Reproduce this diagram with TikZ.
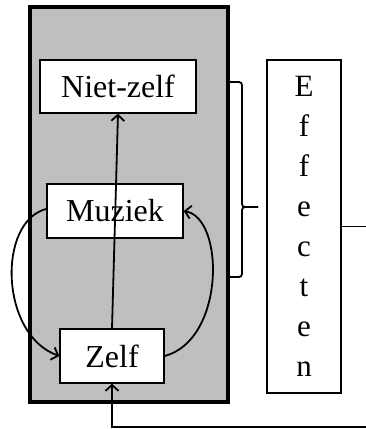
\documentclass[tikz,border=0pt]{standalone}
\usepackage{fontspec}
\setmainfont{Liberation Serif}
\usetikzlibrary{arrows.meta}
\begin{document}
\begin{tikzpicture}[x=1pt,y=-1pt,
  wbox/.style={draw=black,line width=1.3pt,fill=white,inner sep=0pt,font=\fontsize{32}{36}\selectfont},
  conn/.style={line width=1.8pt,-{Straight Barb[length=6pt,width=13pt,line width=1.8pt]}},
  plain/.style={line width=1.8pt}]
\useasboundingbox (0,0) rectangle (365,429);
\node[draw=black,line width=3.5pt,fill=black!25,minimum width=198pt,minimum height=395pt,inner sep=0pt] (gray) at (129,204.5) {};
\node[wbox,minimum width=156pt,minimum height=53pt] (niet) at (118,86.5) {Niet-zelf};
\node[wbox,minimum width=136pt,minimum height=54pt] (muz) at (115,211) {Muziek};
\node[wbox,minimum width=104pt,minimum height=54pt] (zelf) at (112,356) {Zelf};
\node[draw=black,line width=1.3pt,fill=white,inner sep=0pt,minimum width=74pt,minimum height=333pt,align=center,font=\fontsize{31}{40}\selectfont] (eff) at (304,226.5) {E\\f\\f\\e\\c\\t\\e\\n};
% arrows inside
\draw[conn] (zelf.north) -- (niet.south);
\draw[conn] (46,209) .. controls (-3,222) and (0,335) .. (zelf.west);
\draw[conn] (zelf.east) .. controls (225,340) and (225,218) .. (muz.east);
% brace
\coordinate (b1) at (228,82);
\coordinate (b2) at (228,277);
\coordinate (bm) at (242,207);
\coordinate (bt) at (258,207);
\draw[plain,rounded corners=3pt] (b1) -| (bm) -- (bt);
\draw[plain,rounded corners=3pt] (b2) -| (bm) -- (bt);
% feedback
\coordinate (r1) at (368,226.5);
\coordinate (r2) at (368,427);
\draw[conn] (eff.east) -- (r1) -- (r2) -| (zelf.south);
\end{tikzpicture}
\end{document}
